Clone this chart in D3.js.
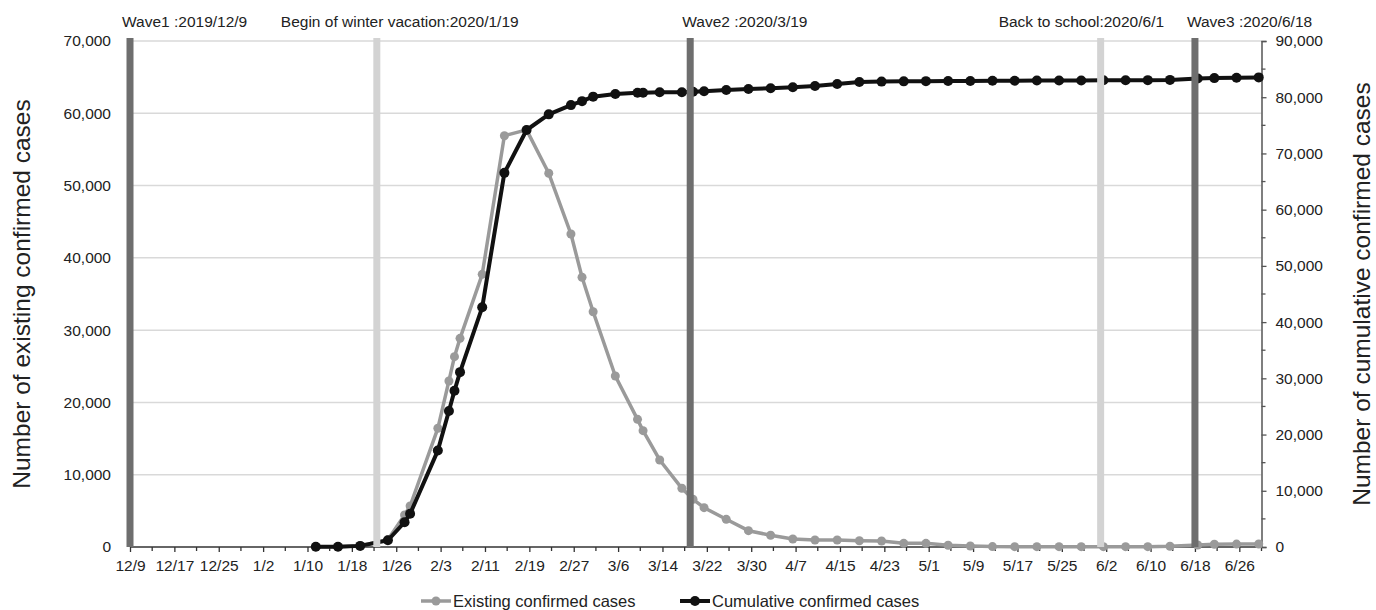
<!DOCTYPE html>
<html>
<head>
<meta charset="utf-8">
<script src="https://cdn.jsdelivr.net/npm/d3@7"></script>
<style>
  body { margin: 0; background: #fff; }
  svg { display: block; font-family: "Liberation Sans", Arial, sans-serif; }
</style>
</head>
<body>
<script>

// report dates of the points
var dates = ["2020-01-11","2020-01-15","2020-01-19","2020-01-24","2020-01-27","2020-01-28",
  "2020-02-02","2020-02-04","2020-02-05","2020-02-06","2020-02-10","2020-02-14","2020-02-18",
  "2020-02-22","2020-02-26","2020-02-28","2020-03-01","2020-03-05","2020-03-09","2020-03-10",
  "2020-03-13","2020-03-17","2020-03-19","2020-03-21","2020-03-25","2020-03-29","2020-04-02",
  "2020-04-06","2020-04-10","2020-04-14","2020-04-18","2020-04-22","2020-04-26","2020-04-30",
  "2020-05-04","2020-05-08","2020-05-12","2020-05-16","2020-05-20","2020-05-24","2020-05-28",
  "2020-06-01","2020-06-05","2020-06-09","2020-06-13","2020-06-18","2020-06-21","2020-06-25",
  "2020-06-29"];

var existing = [30,30,180,1000,4430,5670,
  16420,22970,26330,28870,37720,56900,57700,
  51700,43300,37310,32550,23660,17660,16090,
  12040,8120,6600,5440,3830,2260,1620,
  1110,970,970,870,830,510,510,
  240,140,60,50,50,50,50,
  50,50,50,100,280,380,400,
  420];

var cumulative = [41,41,200,1200,4400,5900,
  17150,24200,27800,31100,42630,66550,74170,
  76950,78600,79300,80100,80580,80800,80810,
  80880,80900,80960,81050,81290,81460,81600,
  81770,82000,82350,82710,82780,82820,82860,
  82880,82890,82920,82930,82960,82980,82990,
  83010,83020,83040,83080,83330,83400,83450,
  83530];

var xTickLabels = ["12/9","12/17","12/25","1/2","1/10","1/18","1/26","2/3","2/11","2/19",
  "2/27","3/6","3/14","3/22","3/30","4/7","4/15","4/23","5/1","5/9","5/17","5/25",
  "6/2","6/10","6/18","6/26"];

var leftTicks = [0,10000,20000,30000,40000,50000,60000,70000];
var rightTicks = [0,10000,20000,30000,40000,50000,60000,70000,80000,90000];

var eventNames = ["Wave1 :2019/12/9","Begin of winter vacation:2020/1/19","Wave2 :2020/3/19",
  "Back to school:2020/6/1","Wave3 :2020/6/18"];
var eventDates = ["2019-12-09","2020-01-22T12:00","2020-03-19","2020-06-01","2020-06-18"];
var eventKinds = ["wave","school","wave","school","wave"];

var seriesNames = ["Existing confirmed cases","Cumulative confirmed cases"];

// layout
var W = 1376, H = 610;
var plot = {left: 130, right: 1261.5, top: 41, bottom: 547};
var labelDx = [-8, -96, -8, -102, -8];
var grayColor = "#9a9a9a", blackColor = "#111";

var parse = function(s){
  if (s.length > 10) return d3.utcParse("%Y-%m-%dT%H:%M")(s);
  return d3.utcParse("%Y-%m-%d")(s);
};

var svg = d3.select("body").append("svg")
  .attr("width", W)
  .attr("height", H);

var xScale = d3.scaleUtc()
  .domain([parse("2019-12-09"), parse("2020-06-30")])
  .range([plot.left, plot.right]);

var yLeft = d3.scaleLinear().domain([0, 70000]).range([plot.bottom, plot.top]);
var yRight = d3.scaleLinear().domain([0, 90000]).range([plot.bottom, plot.top]);

// tick label strings -> dates (12/x belongs to 2019)
var tickDates = xTickLabels.map(function(t){
  var p = t.split("/");
  var yr = +p[0] == 12 ? 2019 : 2020;
  return new Date(Date.UTC(yr, +p[0] - 1, +p[1]));
});
var minorDates = tickDates.map(function(d){ return d3.utcDay.offset(d, 4); });

// grid
svg.append("g")
  .selectAll("line")
  .data(leftTicks.slice(1))
  .join("line")
  .attr("x1", plot.left).attr("x2", plot.right)
  .attr("y1", function(d){ return yLeft(d); })
  .attr("y2", function(d){ return yLeft(d); })
  .attr("stroke", "#d9d9d9")
  .attr("stroke-width", 1.5);

// x axis
var xAxis = d3.axisBottom(xScale)
  .tickValues(tickDates)
  .tickSize(5)
  .tickPadding(8)
  .tickFormat(function(d, i){ return xTickLabels[i]; });

var gx = svg.append("g")
  .attr("transform", "translate(0," + plot.bottom + ")")
  .call(xAxis);
gx.select(".domain").remove();
gx.selectAll(".tick line").attr("stroke", "#333").attr("stroke-width", 1.3);
gx.selectAll(".tick text").attr("font-size", 15.5).attr("fill", "#222")
  .attr("font-family", "Liberation Sans, Arial, sans-serif");

svg.append("g")
  .selectAll("line")
  .data(minorDates)
  .join("line")
  .attr("x1", function(d){ return xScale(d); })
  .attr("x2", function(d){ return xScale(d); })
  .attr("y1", plot.bottom).attr("y2", plot.bottom + 4)
  .attr("stroke", "#333").attr("stroke-width", 1.3);

svg.append("line")
  .attr("x1", plot.left).attr("x2", plot.right)
  .attr("y1", plot.bottom).attr("y2", plot.bottom)
  .attr("stroke", "#333").attr("stroke-width", 1.6);

// left axis (labels only)
var gl = svg.append("g")
  .attr("transform", "translate(" + plot.left + ",0)")
  .call(d3.axisLeft(yLeft).tickValues(leftTicks).tickSize(0).tickPadding(19)
    .tickFormat(d3.format(",")));
gl.select(".domain").remove();
gl.selectAll(".tick text").attr("font-size", 15.5).attr("fill", "#222")
  .attr("font-family", "Liberation Sans, Arial, sans-serif");

// right axis
var gr = svg.append("g")
  .attr("transform", "translate(" + plot.right + ",0)")
  .call(d3.axisRight(yRight).tickValues(rightTicks).tickSize(5).tickPadding(9)
    .tickFormat(d3.format(",")));
gr.select(".domain").attr("stroke", "#555").attr("stroke-width", 1.5);
gr.selectAll(".tick line").attr("stroke", "#555").attr("stroke-width", 1.3);
gr.selectAll(".tick text").attr("font-size", 15.5).attr("fill", "#222")
  .attr("font-family", "Liberation Sans, Arial, sans-serif");

svg.append("g")
  .selectAll("line")
  .data(rightTicks.slice(0, -1).map(function(d){ return d + 5000; }))
  .join("line")
  .attr("x1", plot.right).attr("x2", plot.right + 4)
  .attr("y1", function(d){ return yRight(d); })
  .attr("y2", function(d){ return yRight(d); })
  .attr("stroke", "#555").attr("stroke-width", 1.3);

// axis titles
svg.append("text")
  .attr("transform", "translate(30," + ((plot.top + plot.bottom) / 2) + ") rotate(-90)")
  .attr("text-anchor", "middle")
  .attr("font-size", 24.5)
  .attr("fill", "#222")
  .text("Number of existing confirmed cases");

svg.append("text")
  .attr("transform", "translate(1370," + ((plot.top + plot.bottom) / 2) + ") rotate(-90)")
  .attr("text-anchor", "middle")
  .attr("font-size", 24.5)
  .attr("fill", "#222")
  .text("Number of cumulative confirmed cases");

// lines
var pts = dates.map(function(d, i){
  return {x: d3.utcHour.offset(parse(d), 12), e: existing[i], c: cumulative[i]};
});

var lineE = d3.line()
  .x(function(d){ return xScale(d.x); })
  .y(function(d){ return yLeft(d.e); });
var lineC = d3.line()
  .x(function(d){ return xScale(d.x); })
  .y(function(d){ return yRight(d.c); });

svg.append("path")
  .attr("d", lineE(pts))
  .attr("fill", "none")
  .attr("stroke", grayColor)
  .attr("stroke-width", 3.5)
  .attr("stroke-linejoin", "round");
svg.append("g")
  .selectAll("circle")
  .data(pts)
  .join("circle")
  .attr("cx", function(d){ return xScale(d.x); })
  .attr("cy", function(d){ return yLeft(d.e); })
  .attr("r", 4.5)
  .attr("fill", grayColor);

svg.append("path")
  .attr("d", lineC(pts))
  .attr("fill", "none")
  .attr("stroke", blackColor)
  .attr("stroke-width", 4)
  .attr("stroke-linejoin", "round");
svg.append("g")
  .selectAll("circle")
  .data(pts)
  .join("circle")
  .attr("cx", function(d){ return xScale(d.x); })
  .attr("cy", function(d){ return yRight(d.c); })
  .attr("r", 5)
  .attr("fill", blackColor);

// event bars + labels
var events = eventNames.map(function(n, i){
  return {name: n, date: parse(eventDates[i]), kind: eventKinds[i], dx: labelDx[i]};
});

svg.append("g")
  .selectAll("rect")
  .data(events)
  .join("rect")
  .attr("x", function(d){ return xScale(d.date) - 3.5; })
  .attr("y", plot.top - 3)
  .attr("width", 7)
  .attr("height", plot.bottom - plot.top + 3)
  .attr("fill", function(d){ return d.kind == "wave" ? "#6e6e6e" : "#d3d3d3"; });

svg.append("g")
  .selectAll("text")
  .data(events)
  .join("text")
  .attr("x", function(d){ return xScale(d.date) + d.dx; })
  .attr("y", 26.5)
  .attr("font-size", 15.5)
  .attr("fill", "#222")
  .text(function(d){ return d.name; });

// legend
var legend = svg.append("g");
var legendX = [421, 680];
var legendColors = [grayColor, blackColor];
seriesNames.forEach(function(n, i){
  var g = legend.append("g").attr("transform", "translate(" + legendX[i] + ",601)");
  g.append("line").attr("x1", 0).attr("x2", 30)
    .attr("stroke", legendColors[i]).attr("stroke-width", i ? 4 : 3.5);
  g.append("circle").attr("cx", 15).attr("r", i ? 5 : 4.5).attr("fill", legendColors[i]);
  g.append("text").attr("x", 32).attr("y", 5.5)
    .attr("font-size", 16.5).attr("fill", "#222").text(n);
});

</script>
</body>
</html>
